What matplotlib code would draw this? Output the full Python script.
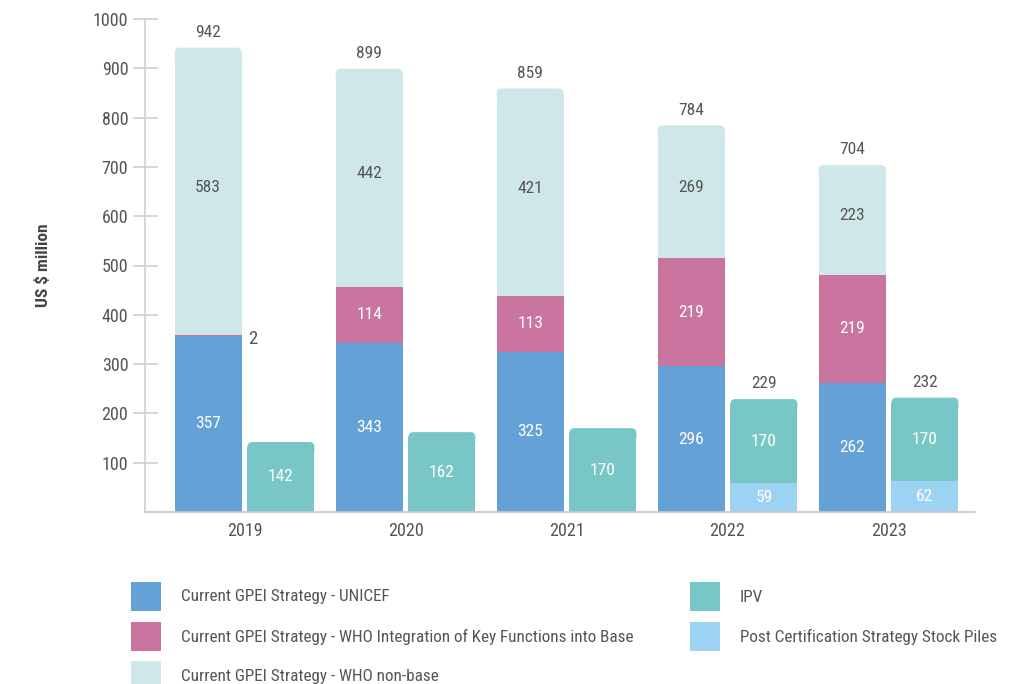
import matplotlib
matplotlib.use("Agg")
import matplotlib.pyplot as plt
from matplotlib.patches import Rectangle, FancyBboxPatch
from matplotlib import font_manager as fm
import numpy as np

years = ["2019", "2020", "2021", "2022", "2023"]
unicef = [357, 343, 325, 296, 262]
who_integration = [2, 114, 113, 219, 219]
who_nonbase = [583, 442, 421, 269, 223]
ipv = [142, 162, 170, 170, 170]
stock = [0, 0, 0, 59, 62]

names = ["Current GPEI Strategy - UNICEF",
         "Current GPEI Strategy - WHO Integration of Key Functions into Base",
         "Current GPEI Strategy - WHO non-base",
         "IPV",
         "Post Certification Strategy Stock Piles"]
colors = ["#64a1d6", "#c975a0", "#cfe7e8", "#78c6c6", "#9dd3f2"]

avail = {f.name for f in fm.fontManager.ttflist}
fam = "DejaVu Sans"
for cand in ["Roboto Condensed", "Barlow Semi Condensed", "IBM Plex Sans Condensed",
             "Open Sans Condensed", "Liberation Sans Narrow"]:
    if cand in avail:
        fam = cand
        break
plt.rcParams["font.family"] = [fam, "DejaVu Sans"]

W, H = 1012, 684
fig = plt.figure(figsize=(W / 100, H / 100), dpi=100)
ax = fig.add_axes([145 / W, 1 - 512 / H, (975 - 145) / W, (512 - 19) / H])

txt = "#555555"
x = np.arange(len(years))
bw = 0.416
off = 0.226
xl = x - off
xr = x + off

u = np.array(unicef); wi = np.array(who_integration); wn = np.array(who_nonbase)
ip = np.array(ipv); st = np.array(stock)

ax.set_xlim(-0.618, 4.537)
ax.set_ylim(0, 1000)

# rounding geometry (pixels -> data)
px_x = (4.537 + 0.618) / (975 - 145)
px_y = 1000 / (512 - 19)
r_px = 5
rx = r_px * px_x
ry = r_px * px_y
aspect = px_y / px_x

def rounded_top(xc, bottom, height, color):
    ax.bar(xc, height - ry, bw, bottom=bottom, color=color, linewidth=0)
    top = bottom + height
    p = FancyBboxPatch((xc - bw / 2 + rx, top - 2 * ry), bw - 2 * rx, ry,
                       boxstyle=f"round,pad={rx},rounding_size={rx}",
                       mutation_aspect=aspect, facecolor=color, edgecolor="none",
                       linewidth=0)
    ax.add_patch(p)
    clip = Rectangle((xc - bw / 2 - rx, top - 2 * ry), bw + 2 * rx, 3 * ry,
                     transform=ax.transData)
    p.set_clip_path(clip)

ax.bar(xl, u, bw, color=colors[0], linewidth=0)
ax.bar(xl, wi, bw, bottom=u, color=colors[1], linewidth=0)
for i in range(len(years)):
    rounded_top(xl[i], u[i] + wi[i], wn[i], colors[2])
ax.bar(xr, st, bw, color=colors[4], linewidth=0)
for i in range(len(years)):
    rounded_top(xr[i], st[i], ip[i], colors[3])

fs = 12.5
for i in range(len(years)):
    ax.text(xl[i], u[i] / 2, str(u[i]), ha="center", va="center", color="white", fontsize=fs)
    if wi[i] >= 20:
        ax.text(xl[i], u[i] + wi[i] / 2, str(wi[i]), ha="center", va="center", color="white", fontsize=fs)
    else:
        ax.text(xl[i] + bw / 2 + 0.04, u[i] + wi[i] - 8, str(wi[i]), ha="left", va="center",
                color=txt, fontsize=fs + 1)
    ax.text(xl[i], u[i] + wi[i] + wn[i] / 2 + 8, str(wn[i]), ha="center", va="center", color=txt, fontsize=fs)
    tot = u[i] + wi[i] + wn[i]
    ax.text(xl[i], tot + 16, str(tot), ha="center", va="bottom", color=txt,
            fontsize=fs, clip_on=False)
    ax.text(xr[i], st[i] + ip[i] / 2, str(ip[i]), ha="center", va="center", color="white", fontsize=fs)
    if st[i] > 0:
        ax.text(xr[i], st[i] / 2, str(st[i]), ha="center", va="center", color="white", fontsize=fs)
        ax.text(xr[i], st[i] + ip[i] + 16, str(st[i] + ip[i]), ha="center", va="bottom",
                color=txt, fontsize=fs, clip_on=False)

ax.set_yticks(np.arange(100, 1001, 100))
ax.set_xticks(x)
ax.set_xticklabels(years)
for s in ["top", "right"]:
    ax.spines[s].set_visible(False)
ax.spines["left"].set_color("#d0d0d0")
ax.spines["bottom"].set_color("#c8c8c8")
ax.spines["left"].set_linewidth(1.2)
ax.spines["bottom"].set_linewidth(1.2)
ax.tick_params(axis="y", direction="inout", length=18, width=1.2, color="#d0d0d0",
               labelsize=13, labelcolor=txt, pad=3)
ax.tick_params(axis="x", length=0, labelsize=13, labelcolor=txt, pad=7)
ax.set_ylabel("US $ million", fontsize=12.5, fontweight="bold", color="#444444", labelpad=30)

# legend; font size fitted so the longest label spans its reference width
renderer = fig.canvas.get_renderer()
probe = fig.text(0, 0, names[1], fontsize=10)
wpx = probe.get_window_extent(renderer).width
probe.remove()
lfs = min(13, 10 * 451 / wpx)

def leg(px, py, color, label):
    fig.add_artist(Rectangle((px / W, 1 - (py + 29) / H), 30 / W, 29 / H,
                             transform=fig.transFigure, facecolor=color, edgecolor="none"))
    fig.text((px + 50) / W, 1 - (py + 15) / H, label, ha="left", va="center",
             fontsize=lfs, color=txt)

leg(131, 582, colors[0], names[0])
leg(131, 622, colors[1], names[1])
leg(131, 661, colors[2], names[2])
leg(690, 582, colors[3], names[3])
leg(690, 622, colors[4], names[4])

fig.savefig("out.png", dpi=100)
